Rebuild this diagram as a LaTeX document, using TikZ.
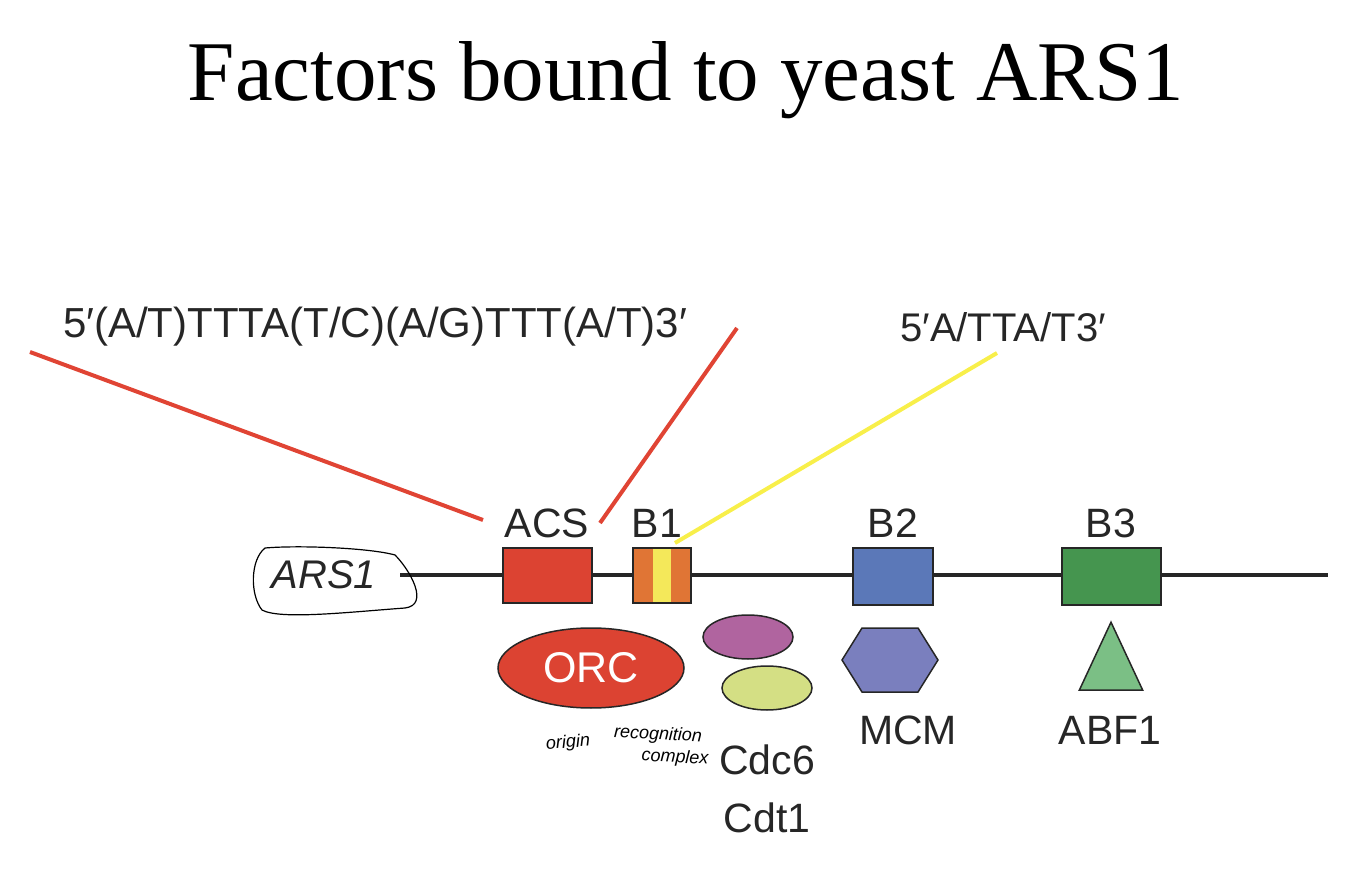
\documentclass[tikz,border=0pt]{standalone}
\usepackage{fontspec}
\setmainfont{Liberation Sans}
\newfontfamily\titlefont{Liberation Serif}
\usetikzlibrary{shapes.geometric}
\definecolor{acs}{HTML}{DC4332}
\definecolor{borange}{HTML}{E07535}
\definecolor{byellow}{HTML}{F4E85A}
\definecolor{bblue}{HTML}{5B78B8}
\definecolor{bgreen}{HTML}{45954F}
\definecolor{cpurple}{HTML}{B0649F}
\definecolor{clime}{HTML}{D4DF84}
\definecolor{mcm}{HTML}{7A7FBE}
\definecolor{abf}{HTML}{7BBF85}
\definecolor{lred}{HTML}{E04434}
\definecolor{lyel}{HTML}{F8EF4A}
\begin{document}
\begin{tikzpicture}[x=1pt,y=-1pt,
  lab/.style={font=\fontsize{41}{44}\selectfont,text=black!85},
  box/.style={draw=black!85,line width=1.5pt},
  prot/.style={draw=black!85,line width=1.5pt},
  hand/.style={font=\itshape\fontsize{18}{20}\selectfont}]
\useasboundingbox (0,0) rectangle (1358,882);
\node[font=\titlefont\fontsize{85}{88}\selectfont] (title) at (686,80) {Factors bound to yeast ARS1};
\node[lab,font=\fontsize{42}{44}\selectfont] (seq1) at (375,327) {5′(A/T)TTTA(T/C)(A/G)TTT(A/T)3′};
\node[lab,font=\fontsize{40}{44}\selectfont] (seq2) at (1003,327) {5′A/TTA/T3′};
% DNA
\coordinate (l0) at (400,575); \coordinate (l1) at (1328,575);
\draw[line width=4pt,black!85] (l0) -- (l1);
\node[font=\itshape\fontsize{40}{44}\selectfont,text=black!85] (ars) at (324,575) {ARS1};
\draw[line width=1.2pt] (265,548) .. controls (300,545) and (370,548) .. (395,555) .. controls (410,570) and (430,605) .. (405,608) .. controls (350,612) and (280,620) .. (262,610) .. controls (250,595) and (250,560) .. (265,548);
% boxes
\node[box,fill=acs,minimum width=89pt,minimum height=55pt,inner sep=0] (acs) at (547.5,575.5) {};
\node[box,fill=borange,minimum width=58pt,minimum height=55pt,inner sep=0] (b1) at (662,575.5) {};
\fill[byellow] (653,549) rectangle (671,602);
\node[box,fill=none,minimum width=58pt,minimum height=55pt,inner sep=0] at (662,575.5) {};
\node[box,fill=bblue,minimum width=80pt,minimum height=57pt,inner sep=0] (b2) at (893,576.5) {};
\node[box,fill=bgreen,minimum width=99pt,minimum height=57pt,inner sep=0] (b3) at (1111.5,576.5) {};
\node[lab] at (547,523) {ACS};
\node[lab] at (657,523) {B1};
\node[lab] at (893,523) {B2};
\node[lab] at (1111,523) {B3};
% pointer lines
\coordinate (p1) at (30,352); \coordinate (p2) at (483,520);
\coordinate (p3) at (737,328); \coordinate (p4) at (600,523);
\coordinate (p5) at (997,353); \coordinate (p6) at (675,543);
\draw[lred,line width=4pt] (p1) -- (p2);
\draw[lred,line width=4pt] (p3) -- (p4);
\draw[lyel,line width=4pt] (p5) -- (p6);
% proteins
\node[prot,ellipse,fill=acs,minimum width=186pt,minimum height=80pt,text=white,font=\fontsize{43}{44}\selectfont] (orc) at (591,668) {ORC};
\node[prot,ellipse,fill=cpurple,minimum width=90pt,minimum height=44pt] (cdc6) at (748,637) {};
\node[prot,ellipse,fill=clime,minimum width=90pt,minimum height=44pt] (cdt1) at (767,688) {};
\draw[prot,fill=mcm] (842,660) -- (862,628) -- (918,628) -- (938,660) -- (918,692) -- (862,692) -- cycle;
\node[prot,isosceles triangle,shape border rotate=90,isosceles triangle apex angle=50,fill=abf,minimum height=68pt,inner sep=0] (abf1) at (1111,670) {};
\node[lab] at (767,760) {Cdc6};
\node[lab] at (767,818) {Cdt1};
\node[lab] at (908,730) {MCM};
\node[lab] at (1110,730) {ABF1};
\node[hand,rotate=4] at (568,743) {origin};
\node[hand,rotate=-3] at (658,735) {recognition};
\node[hand,rotate=-3] at (675,758) {complex};
\end{tikzpicture}
\end{document}
